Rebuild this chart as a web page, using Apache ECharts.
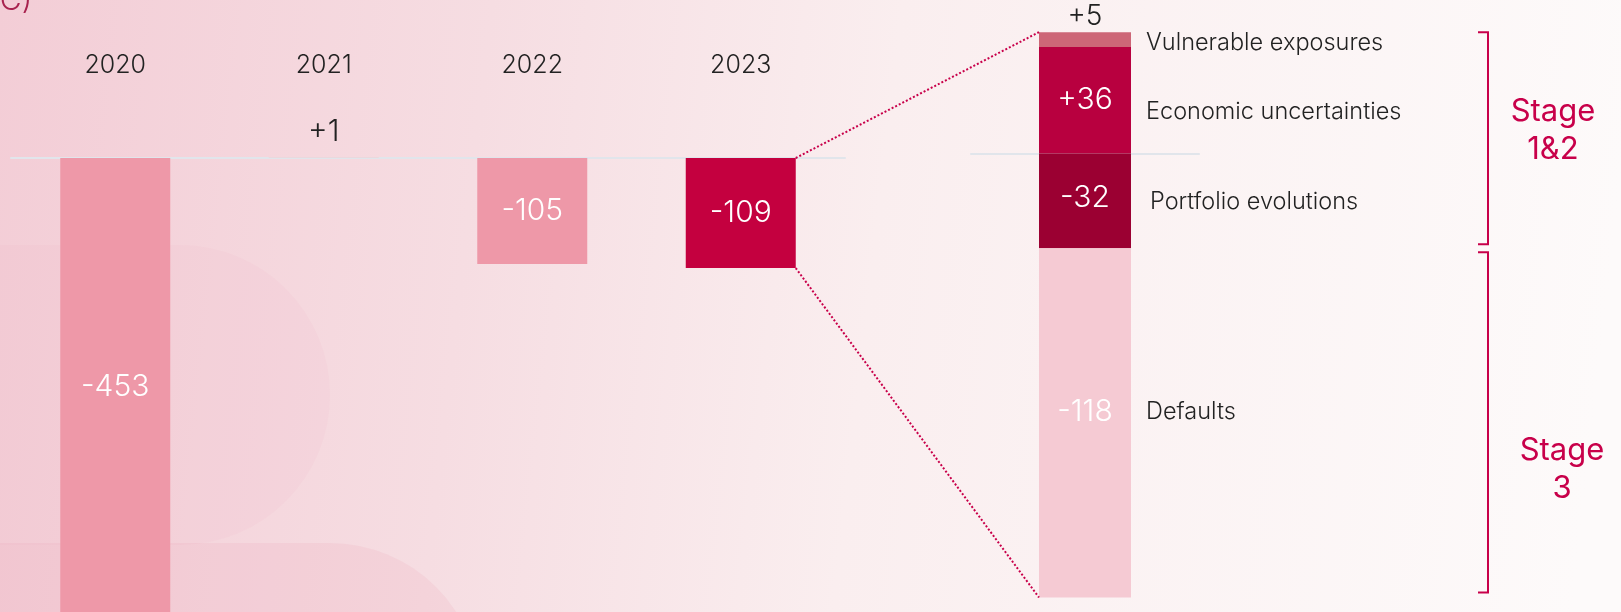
<!DOCTYPE html>
<html>
<head>
<meta charset="utf-8">
<script src="https://cdn.jsdelivr.net/npm/echarts@6/dist/echarts.min.js"></script>
<style>
  html, body { margin: 0; padding: 0; }
  #chart { width: 1621px; height: 612px; }
</style>
</head>
<body>
<div id="chart"></div>
<script>
// Yearly cost of risk movements
const years = ['2020', '2021', '2022', '2023'];
const yearValues = [-453, 1, -105, -109];
const yearColors = ['#ee98a8', '#ead8dd', '#ee98a8', '#c4003f'];

// 2023 breakdown (in stacking order: positives bottom-up, then negatives top-down)
const driverNames = ['Economic uncertainties', 'Vulnerable exposures', 'Portfolio evolutions', 'Defaults'];
const driverValues = [36, 5, -32, -118];
const driverColors = ['#b8003f', '#cd6677', '#9b0032', '#f5cad3'];
const driverStage = ['Stage\n1&2', 'Stage\n1&2', 'Stage\n1&2', 'Stage\n3'];

const FONT = 'Inter, "Open Sans", sans-serif';
const CRIMSON = '#c8004a';

const chart = echarts.init(document.getElementById('chart'));

const fmt = v => (v > 0 ? '+' : '') + v;

// label tweaks for the breakdown bar
const valueLabel = {
  'Economic uncertainties': { position: 'inside', color: '#fff' },
  'Vulnerable exposures': { position: 'top', color: '#222', distance: 2, fontSize: 28 },
  'Portfolio evolutions': { position: 'inside', color: '#fff', offset: [0, -3] },
  'Defaults': { position: 'inside', color: '#fff', offset: [0, -11] }
};
const nameOffset = {
  'Economic uncertainties': [0, 12],
  'Vulnerable exposures': [0, 3],
  'Portfolio evolutions': [4, 1],
  'Defaults': [0, -11]
};

const series = [
  {
    type: 'bar',
    xAxisIndex: 0,
    yAxisIndex: 0,
    barWidth: 110,
    data: yearValues.map((v, i) => ({
      value: v,
      itemStyle: { color: yearColors[i] },
      label: v > 0 ? { position: 'top', color: '#222', distance: 10 } : {}
    })),
    label: {
      show: true,
      position: 'inside',
      color: '#fff',
      fontSize: 30,
      fontWeight: 300,
      fontFamily: FONT,
      formatter: p => fmt(p.value)
    }
  }
];

driverNames.forEach((name, i) => {
  series.push({
    name: name,
    type: 'bar',
    xAxisIndex: 1,
    yAxisIndex: 1,
    stack: 'drivers',
    barWidth: 92,
    data: [driverValues[i]],
    itemStyle: { color: driverColors[i] },
    label: Object.assign({
      show: true,
      fontSize: 30,
      fontWeight: 300,
      fontFamily: FONT,
      formatter: p => fmt(p.value)
    }, valueLabel[name])
  });
});
// invisible twin bars carrying the driver names on the right
driverNames.forEach((name, i) => {
  series.push({
    name: name,
    type: 'bar',
    xAxisIndex: 1,
    yAxisIndex: 1,
    stack: 'names',
    barWidth: 92,
    barGap: '-100%',
    data: [driverValues[i]],
    itemStyle: { color: 'rgba(0,0,0,0)' },
    silent: true,
    label: {
      show: true,
      position: 'right',
      distance: 15,
      offset: nameOffset[name],
      color: '#222',
      fontSize: 23.5,
      fontWeight: 300,
      fontFamily: FONT,
      formatter: '{a}'
    }
  });
});

chart.setOption({
  animation: false,
  backgroundColor: {
    type: 'linear', x: 0, y: 0, x2: 1, y2: 0.3,
    colorStops: [
      { offset: 0, color: '#f3cdd6' },
      { offset: 0.3, color: '#f6dde2' },
      { offset: 0.55, color: '#faeeef' },
      { offset: 1, color: '#fdfafa' }
    ]
  },
  grid: [
    { left: 11, width: 834, top: 97.4, height: 525.2, outerBoundsMode: 'none', containLabel: false },
    { left: 971, width: 228, top: 5.5, height: 621.6, outerBoundsMode: 'none', containLabel: false }
  ],
  xAxis: [
    {
      type: 'category', gridIndex: 0, data: years, position: 'top',
      axisLine: { onZero: true, lineStyle: { color: '#e1e5eb', width: 2 } },
      axisTick: { show: false },
      axisLabel: { margin: 32, verticalAlign: 'middle', color: '#222', fontSize: 25, fontWeight: 300, fontFamily: FONT }
    },
    {
      type: 'category', gridIndex: 1, data: ['2023'],
      axisLine: { onZero: true, lineStyle: { color: '#e1e5eb', width: 2 } },
      axisTick: { show: false },
      axisLabel: { show: false }
    }
  ],
  yAxis: [
    { type: 'value', gridIndex: 0, min: -460, max: 60, show: false, splitLine: { show: false } },
    { type: 'value', gridIndex: 1, min: -160, max: 50, show: false, splitLine: { show: false } }
  ],
  series: series
});

// decorations computed from the scales
const lastYear = years[years.length - 1];
const lastVal = yearValues[yearValues.length - 1];
const pTop = chart.convertToPixel({ gridIndex: 0 }, [lastYear, 0]);
const pBot = chart.convertToPixel({ gridIndex: 0 }, [lastYear, lastVal]);
const posSum = driverValues.filter(v => v > 0).reduce((a, b) => a + b, 0);
const negSum = driverValues.filter(v => v < 0).reduce((a, b) => a + b, 0);
const sTop = chart.convertToPixel({ gridIndex: 1 }, ['2023', posSum]);
const sBot = chart.convertToPixel({ gridIndex: 1 }, ['2023', negSum]);
const barEdgeL = 55, barEdgeR = 46;

// stage ranges
let stage12Low = 0;
driverNames.forEach((n, i) => {
  if (driverStage[i] === 'Stage\n1&2' && driverValues[i] < 0) stage12Low += driverValues[i];
});
const yS1a = chart.convertToPixel({ gridIndex: 1 }, ['2023', posSum])[1];
const yS1b = chart.convertToPixel({ gridIndex: 1 }, ['2023', stage12Low])[1];
const yS3b = chart.convertToPixel({ gridIndex: 1 }, ['2023', negSum])[1];
const bx = 1488;
const bracket = (y1, y2) => ({
  type: 'polyline',
  shape: { points: [[bx - 10, y1], [bx, y1], [bx, y2], [bx - 10, y2]] },
  style: { stroke: CRIMSON, lineWidth: 2, fill: null },
  z: 5
});

chart.setOption({
  graphic: [
    { type: 'rect', shape: { x: -200, y: 245, width: 530, height: 300, r: 150 },
      style: { fill: 'rgba(236,160,182,0.07)' }, z: -1, silent: true },
    { type: 'rect', shape: { x: -200, y: 543, width: 680, height: 300, r: 150 },
      style: { fill: 'rgba(232,140,168,0.12)' }, z: -1, silent: true },
    { type: 'text', left: -8, top: -14,
      style: { text: 'IC)', fill: '#a8234f', font: '300 30px ' + FONT }, z: 5 },
    { type: 'line', shape: { x1: pTop[0] + barEdgeL, y1: pTop[1], x2: sTop[0] - barEdgeR, y2: sTop[1] },
      style: { stroke: CRIMSON, lineWidth: 2, lineDash: [2, 2] }, z: 5 },
    { type: 'line', shape: { x1: pBot[0] + barEdgeL, y1: pBot[1], x2: sBot[0] - barEdgeR, y2: sBot[1] },
      style: { stroke: CRIMSON, lineWidth: 2, lineDash: [2, 2] }, z: 5 },
    bracket(yS1a, yS1b - 4),
    bracket(yS1b + 4, yS3b - 5),
    { type: 'text', x: 1553, y: 131,
      style: { text: 'Stage\n1&2', fill: CRIMSON, font: '400 31px ' + FONT, align: 'center', verticalAlign: 'middle', lineHeight: 38 }, z: 5 },
    { type: 'text', x: 1562, y: 470,
      style: { text: 'Stage\n3', fill: CRIMSON, font: '400 31px ' + FONT, align: 'center', verticalAlign: 'middle', lineHeight: 38 }, z: 5 }
  ]
});
</script>
</body>
</html>
